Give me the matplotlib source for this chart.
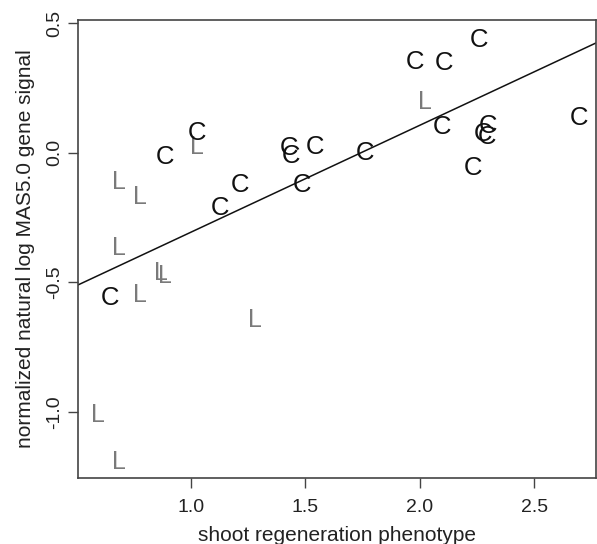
import matplotlib
matplotlib.use("Agg")
import matplotlib.pyplot as plt
import numpy as np

plt.rcParams['font.family'] = ['Liberation Sans', 'DejaVu Sans']

# C (callus-type) points
c_x = [0.646, 0.886, 1.026, 1.127, 1.214, 1.429, 1.437, 1.485, 1.542, 1.761,
       1.979, 2.097, 2.106, 2.233, 2.259, 2.277, 2.294, 2.299, 2.697]
c_y = [-0.560, -0.017, 0.076, -0.213, -0.125, 0.018, -0.013, -0.125, 0.022, -0.001,
       0.350, 0.099, 0.346, -0.059, 0.434, 0.072, 0.061, 0.103, 0.134]

# L points
l_x = [0.593, 0.685, 0.685, 0.685, 0.777, 0.777, 0.869, 0.886, 1.026, 1.280, 2.023]
l_y = [-1.011, -1.192, -0.367, -0.113, -0.171, -0.549, -0.464, -0.476, 0.022, -0.645, 0.195]

# fitted line (abline)
fit_intercept = -0.718
fit_slope = 0.412

x_ticks = [1.0, 1.5, 2.0, 2.5]
y_ticks = [-1.0, -0.5, 0.0, 0.5]

fig = plt.figure(figsize=(5.97, 5.44), dpi=100)
ax = fig.add_axes([0.1307, 0.1213, 0.8677, 0.8419])
ax.set_xlim(0.506, 2.771)
ax.set_ylim(-1.254, 0.512)

for x, y in zip(l_x, l_y):
    ax.text(x, y, "L", ha='center', va='center', fontsize=18, color='#7a7a7a')
for x, y in zip(c_x, c_y):
    ax.text(x, y, "C", ha='center', va='center', fontsize=18.5, color='#111111')

xs = np.array(ax.get_xlim())
ax.plot(xs, fit_intercept + fit_slope * xs, color='#111111', lw=1.1)
ax.set_xlim(0.506, 2.771)

ax.set_xticks(x_ticks)
ax.set_xticklabels([f"{v:.1f}" for v in x_ticks])
ax.set_yticks(y_ticks)
ax.set_yticklabels([f"{v:.1f}" for v in y_ticks], rotation=90, va='center')

for s in ax.spines.values():
    s.set_color('#444444')
    s.set_linewidth(1.2)
ax.tick_params(direction='out', length=7, width=1.0, color='#444444',
               labelsize=14, labelcolor='#222222')
ax.tick_params(axis='x', pad=8)
ax.tick_params(axis='y', pad=4)

ax.set_xlabel("shoot regeneration phenotype", fontsize=15, color='#222222', labelpad=7)
ax.set_ylabel("normalized natural log MAS5.0 gene signal", fontsize=15, color='#222222', labelpad=8)

fig.savefig("out.png", dpi=100)
